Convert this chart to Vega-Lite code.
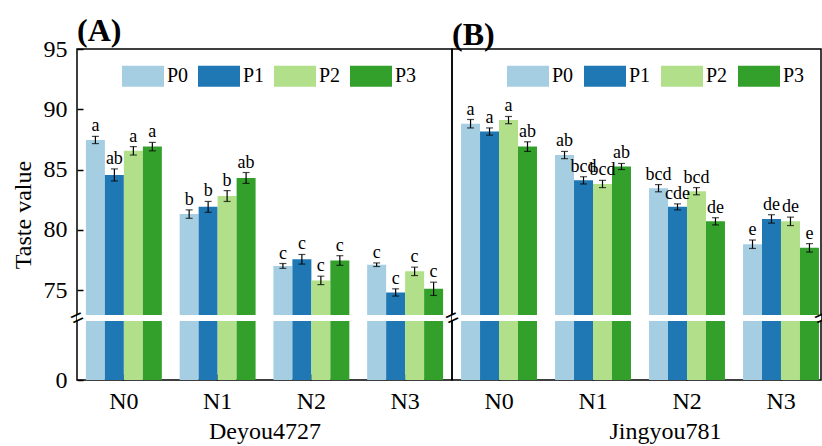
{
  "$schema": "https://vega.github.io/schema/vega-lite/v6.json",
  "padding": {"left": 10, "top": 14, "right": 0, "bottom": 0},
  "spacing": 0,
  "bounds": "flush",
  "datasets": {
    "taste": [
      {"variety": "Deyou4727", "N": "N0", "P": "P0", "mean": 87.45, "lo": 87.15, "hi": 87.75, "sig": "a"},
      {"variety": "Deyou4727", "N": "N0", "P": "P1", "mean": 84.55, "lo": 84.05, "hi": 85.05, "sig": "ab"},
      {"variety": "Deyou4727", "N": "N0", "P": "P2", "mean": 86.55, "lo": 86.2, "hi": 86.9, "sig": "a"},
      {"variety": "Deyou4727", "N": "N0", "P": "P3", "mean": 86.9, "lo": 86.55, "hi": 87.25, "sig": "a"},
      {"variety": "Deyou4727", "N": "N1", "P": "P0", "mean": 81.3, "lo": 80.95, "hi": 81.65, "sig": "b"},
      {"variety": "Deyou4727", "N": "N1", "P": "P1", "mean": 81.9, "lo": 81.45, "hi": 82.35, "sig": "b"},
      {"variety": "Deyou4727", "N": "N1", "P": "P2", "mean": 82.8, "lo": 82.35, "hi": 83.25, "sig": "b"},
      {"variety": "Deyou4727", "N": "N1", "P": "P3", "mean": 84.3, "lo": 83.85, "hi": 84.75, "sig": "ab"},
      {"variety": "Deyou4727", "N": "N2", "P": "P0", "mean": 77.0, "lo": 76.8, "hi": 77.2, "sig": "c"},
      {"variety": "Deyou4727", "N": "N2", "P": "P1", "mean": 77.55, "lo": 77.15, "hi": 77.95, "sig": "c"},
      {"variety": "Deyou4727", "N": "N2", "P": "P2", "mean": 75.8, "lo": 75.45, "hi": 76.15, "sig": "c"},
      {"variety": "Deyou4727", "N": "N2", "P": "P3", "mean": 77.45, "lo": 77.05, "hi": 77.85, "sig": "c"},
      {"variety": "Deyou4727", "N": "N3", "P": "P0", "mean": 77.1, "lo": 76.95, "hi": 77.25, "sig": "c"},
      {"variety": "Deyou4727", "N": "N3", "P": "P1", "mean": 74.8, "lo": 74.5, "hi": 75.1, "sig": "c"},
      {"variety": "Deyou4727", "N": "N3", "P": "P2", "mean": 76.55, "lo": 76.2, "hi": 76.9, "sig": "c"},
      {"variety": "Deyou4727", "N": "N3", "P": "P3", "mean": 75.1, "lo": 74.55, "hi": 75.65, "sig": "c"},
      {"variety": "Jingyou781", "N": "N0", "P": "P0", "mean": 88.8, "lo": 88.45, "hi": 89.15, "sig": "a"},
      {"variety": "Jingyou781", "N": "N0", "P": "P1", "mean": 88.15, "lo": 87.85, "hi": 88.45, "sig": "a"},
      {"variety": "Jingyou781", "N": "N0", "P": "P2", "mean": 89.1, "lo": 88.8, "hi": 89.4, "sig": "a"},
      {"variety": "Jingyou781", "N": "N0", "P": "P3", "mean": 86.9, "lo": 86.5, "hi": 87.3, "sig": "ab"},
      {"variety": "Jingyou781", "N": "N1", "P": "P0", "mean": 86.2, "lo": 85.9, "hi": 86.5, "sig": "ab"},
      {"variety": "Jingyou781", "N": "N1", "P": "P1", "mean": 84.1, "lo": 83.8, "hi": 84.4, "sig": "bcd"},
      {"variety": "Jingyou781", "N": "N1", "P": "P2", "mean": 83.8, "lo": 83.5, "hi": 84.1, "sig": "bcd"},
      {"variety": "Jingyou781", "N": "N1", "P": "P3", "mean": 85.25, "lo": 85.0, "hi": 85.5, "sig": "ab"},
      {"variety": "Jingyou781", "N": "N2", "P": "P0", "mean": 83.45, "lo": 83.15, "hi": 83.75, "sig": "bcd"},
      {"variety": "Jingyou781", "N": "N2", "P": "P1", "mean": 81.9, "lo": 81.65, "hi": 82.15, "sig": "cde"},
      {"variety": "Jingyou781", "N": "N2", "P": "P2", "mean": 83.2, "lo": 82.9, "hi": 83.5, "sig": "bcd"},
      {"variety": "Jingyou781", "N": "N2", "P": "P3", "mean": 80.7, "lo": 80.4, "hi": 81.0, "sig": "de"},
      {"variety": "Jingyou781", "N": "N3", "P": "P0", "mean": 78.8, "lo": 78.45, "hi": 79.15, "sig": "e"},
      {"variety": "Jingyou781", "N": "N3", "P": "P1", "mean": 80.9, "lo": 80.55, "hi": 81.25, "sig": "de"},
      {"variety": "Jingyou781", "N": "N3", "P": "P2", "mean": 80.7, "lo": 80.35, "hi": 81.05, "sig": "de"},
      {"variety": "Jingyou781", "N": "N3", "P": "P3", "mean": 78.5, "lo": 78.15, "hi": 78.85, "sig": "e"}
    ],
    "brk": [{"b0": 72.43, "b1": 72.93, "bm": 72.68}]
  },
  "resolve": {"scale": {"x": "independent", "y": "independent", "color": "independent"}, "legend": {"color": "independent"}},
  "hconcat": [
    {
      "title": {"text": "(A)", "offset": -11},
      "width": 375,
      "height": 331,
      "layer": [
        {
          "data": {"name": "taste"},
          "transform": [{"filter": "datum.variety === 'Deyou4727'"}],
          "mark": {"type": "bar"},
          "encoding": {
            "x": {"field": "N", "type": "nominal", "scale": {"paddingInner": 0.19, "paddingOuter": 0.095}, "axis": {"title": "Deyou4727", "labelAngle": 0, "tickSize": -6, "labelPadding": 15, "titlePadding": 6, "domain": false}},
            "xOffset": {"field": "P", "type": "nominal", "scale": {"paddingInner": 0, "paddingOuter": 0}},
            "y": {"field": "mean", "type": "quantitative", "scale": {"domain": [0, 72.43, 95], "range": [331, 272, 0], "nice": false, "zero": false}, "axis": {"title": "Taste value", "values": [0, 75, 80, 85, 90, 95], "tickSize": -6, "labelPadding": 16, "titlePadding": 8, "domain": false}},
            "color": {"field": "P", "type": "nominal", "scale": {"domain": ["P0", "P1", "P2", "P3"], "range": ["#a6cee3", "#1f78b4", "#b2df8a", "#33a02c"]},
              "legend": {"title": null, "orient": "none", "legendX": 45, "legendY": 6, "direction": "horizontal", "symbolType": "M-1,-0.5H1V0.5H-1Z", "symbolSize": 1764, "symbolStrokeWidth": 0, "symbolOpacity": 1, "labelFont": "Liberation Serif, Times New Roman, serif", "labelFontSize": 20, "labelColor": "black", "labelOffset": 3, "columnPadding": 9, "padding": 0}}
          }
        },
        {
          "data": {"name": "brk"},
          "mark": {"type": "rect", "color": "white"},
          "encoding": {"y": {"field": "b0", "type": "quantitative"}, "y2": {"field": "b1"}}
        },
        {
          "data": {"name": "taste"},
          "transform": [{"filter": "datum.variety === 'Deyou4727'"}],
          "encoding": {
            "x": {"field": "N", "type": "nominal"},
            "xOffset": {"field": "P", "type": "nominal"}
          },
          "layer": [
            {"mark": {"type": "rule", "color": "black", "strokeWidth": 1.2}, "encoding": {"y": {"field": "lo", "type": "quantitative"}, "y2": {"field": "hi"}}},
            {"mark": {"type": "tick", "color": "black", "size": 7, "thickness": 1.2}, "encoding": {"y": {"field": "lo", "type": "quantitative"}}},
            {"mark": {"type": "tick", "color": "black", "size": 7, "thickness": 1.2}, "encoding": {"y": {"field": "hi", "type": "quantitative"}}},
            {"mark": {"type": "text", "baseline": "bottom", "dy": -1, "font": "Liberation Serif, Times New Roman, serif", "fontSize": 18, "color": "black"}, "encoding": {"y": {"field": "hi", "type": "quantitative"}, "text": {"field": "sig"}}}
          ]
        },
        {
          "data": {"name": "brk"},
          "mark": {"type": "text", "text": "=", "angle": -25, "font": "Liberation Sans", "fontSize": 22, "color": "black", "baseline": "middle", "align": "center"},
          "encoding": {"x": {"value": 0}, "y": {"field": "bm", "type": "quantitative"}}
        }
      ]
    },
    {
      "title": {"text": "(B)", "offset": -3},
      "width": 369,
      "height": 331,
      "layer": [
        {
          "data": {"name": "taste"},
          "transform": [{"filter": "datum.variety === 'Jingyou781'"}],
          "mark": {"type": "bar"},
          "encoding": {
            "x": {"field": "N", "type": "nominal", "scale": {"paddingInner": 0.19, "paddingOuter": 0.058, "align": 0.83}, "axis": {"title": "Jingyou781", "titleX": 213, "labelAngle": 0, "tickSize": -6, "labelPadding": 15, "titlePadding": 6, "domain": false}},
            "xOffset": {"field": "P", "type": "nominal", "scale": {"paddingInner": 0, "paddingOuter": 0}},
            "y": {"field": "mean", "type": "quantitative", "scale": {"domain": [0, 72.43, 95], "range": [331, 272, 0], "nice": false, "zero": false}, "axis": null},
            "color": {"field": "P", "type": "nominal", "scale": {"domain": ["P0", "P1", "P2", "P3"], "range": ["#a6cee3", "#1f78b4", "#b2df8a", "#33a02c"]},
              "legend": {"title": null, "orient": "none", "legendX": 55, "legendY": 6, "direction": "horizontal", "symbolType": "M-1,-0.5H1V0.5H-1Z", "symbolSize": 1764, "symbolStrokeWidth": 0, "symbolOpacity": 1, "labelFont": "Liberation Serif, Times New Roman, serif", "labelFontSize": 20, "labelColor": "black", "labelOffset": 3, "columnPadding": 10, "padding": 0}}
          }
        },
        {
          "data": {"name": "brk"},
          "mark": {"type": "rect", "color": "white"},
          "encoding": {"y": {"field": "b0", "type": "quantitative"}, "y2": {"field": "b1"}}
        },
        {
          "data": {"name": "taste"},
          "transform": [{"filter": "datum.variety === 'Jingyou781'"}],
          "encoding": {
            "x": {"field": "N", "type": "nominal"},
            "xOffset": {"field": "P", "type": "nominal"}
          },
          "layer": [
            {"mark": {"type": "rule", "color": "black", "strokeWidth": 1.2}, "encoding": {"y": {"field": "lo", "type": "quantitative"}, "y2": {"field": "hi"}}},
            {"mark": {"type": "tick", "color": "black", "size": 7, "thickness": 1.2}, "encoding": {"y": {"field": "lo", "type": "quantitative"}}},
            {"mark": {"type": "tick", "color": "black", "size": 7, "thickness": 1.2}, "encoding": {"y": {"field": "hi", "type": "quantitative"}}},
            {"mark": {"type": "text", "baseline": "bottom", "dy": -1, "font": "Liberation Serif, Times New Roman, serif", "fontSize": 18, "color": "black"}, "encoding": {"y": {"field": "hi", "type": "quantitative"}, "text": {"field": "sig"}}}
          ]
        },
        {
          "data": {"name": "brk"},
          "mark": {"type": "text", "text": "=", "angle": -25, "font": "Liberation Sans", "fontSize": 22, "color": "black", "baseline": "middle", "align": "center"},
          "encoding": {"x": {"value": 0}, "y": {"field": "bm", "type": "quantitative"}}
        },
        {
          "data": {"name": "brk"},
          "mark": {"type": "text", "text": "=", "angle": -25, "font": "Liberation Sans", "fontSize": 22, "color": "black", "baseline": "middle", "align": "center"},
          "encoding": {"x": {"value": "width"}, "y": {"field": "bm", "type": "quantitative"}}
        }
      ]
    }
  ],
  "config": {
    "font": "Liberation Serif, Times New Roman, serif",
    "view": {"stroke": "black", "strokeWidth": 1.5},
    "axis": {"labelFont": "Liberation Serif, Times New Roman, serif", "labelFontSize": 24, "labelColor": "black", "titleFont": "Liberation Serif, Times New Roman, serif", "titleFontSize": 24, "titleFontWeight": "normal", "titleColor": "black", "tickColor": "black", "tickWidth": 1.5, "grid": false, "zindex": 1},
    "title": {"font": "Liberation Serif, Times New Roman, serif", "fontSize": 32, "fontWeight": "bold", "anchor": "start", "frame": "group", "color": "black"}
  }
}
